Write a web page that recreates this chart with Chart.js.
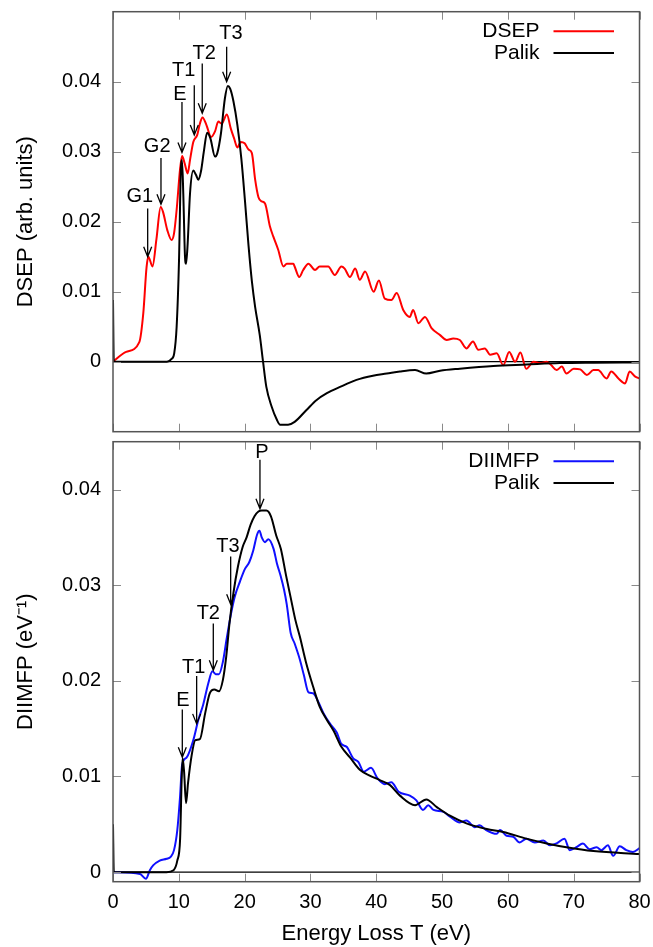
<!DOCTYPE html>
<html>
<head>
<meta charset="utf-8">
<script src="https://cdn.jsdelivr.net/npm/chart.js@4.4.1/dist/chart.umd.min.js"></script>
<style>
  html, body { margin: 0; padding: 0; background: #fff; }
  #wrap { position: relative; width: 653px; height: 947px; }
  #topBox { position: absolute; left: 0; top: 0; width: 653px; height: 437px; }
  #botBox { position: absolute; left: 0; top: 437px; width: 653px; height: 510px; }
</style>
</head>
<body>
<div id="wrap">
  <div id="topBox"><canvas id="dsepChart"></canvas></div>
  <div id="botBox"><canvas id="diimfpChart"></canvas></div>
</div>
<script>
// === data ===

const xTicks = [0, 10, 20, 30, 40, 50, 60, 70, 80];
const yTicks = [0, 0.01, 0.02, 0.03, 0.04];

// top panel: DSEP (red)
const dsepT = [0, 2.0, 4.0, 4.6, 5.1, 5.37, 6.0, 6.6, 7.24, 7.6, 8.25, 8.9, 9.27, 9.67, 10.18, 10.5, 10.9, 11.34, 11.7,
  12.2, 12.8, 13.2, 13.6, 14.2, 14.9, 15.5, 16.0, 16.5, 17.3, 17.9, 18.4, 18.9, 19.4, 20.0, 20.6, 21.1, 21.6,
  22.1, 22.6, 23.1, 23.85, 24.35, 25.1, 25.9, 26.4, 27.4, 27.6, 28.3, 28.9, 29.7, 30.7, 31.4, 32.7, 33.7, 34.7,
  35.2, 36.0, 36.8, 37.5, 38.3, 39.6, 40.4, 41.3, 42.3, 43.1, 44.1, 45.1, 45.6, 46.4, 47.4, 48.4, 49.7, 50.7,
  51.7, 52.7, 53.7, 54.7, 55.5, 56.5, 57.3, 58.3, 59.3, 60.2, 61.1, 61.9, 62.8, 63.9, 64.9, 65.9, 66.6, 67.4,
  68.2, 68.9, 70, 71, 72, 73, 73.7, 75, 75.7, 76.8, 77.8, 78.5, 79.3, 80];
const dsepY = [0, 0.0014, 0.0028, 0.0069, 0.0135, 0.015, 0.0136, 0.0175, 0.0221, 0.0214, 0.0188, 0.0174, 0.0183, 0.0217,
  0.0274, 0.0294, 0.0283, 0.0269, 0.0288, 0.0314, 0.0324, 0.034, 0.0349, 0.0338, 0.0321, 0.0329, 0.0343, 0.034,
  0.0353, 0.0333, 0.0319, 0.0306, 0.0314, 0.0312, 0.0303, 0.0298, 0.026, 0.0235, 0.0229, 0.0226, 0.0193, 0.0179,
  0.016, 0.0136, 0.014, 0.014, 0.0136, 0.0121, 0.0131, 0.014, 0.0131, 0.0136, 0.0136, 0.0124, 0.0136, 0.0133,
  0.0121, 0.0133, 0.0117, 0.0129, 0.0100, 0.0116, 0.009, 0.0088, 0.0098, 0.0074, 0.0064, 0.0074, 0.0055, 0.0064,
  0.0048, 0.0038, 0.0031, 0.0033, 0.0031, 0.0019, 0.0029, 0.0017, 0.0019, 0.001, 0.0012, -0.0005, 0.0014, 0,
  0.0013, -0.001, 0, -0.0002, 0, -0.0005, -0.0012, -0.0007, -0.0017, -0.001, -0.0011, -0.0019, -0.0012, -0.0012,
  -0.0024, -0.0014, -0.0024, -0.0031, -0.0014, -0.0021, -0.0024];

// top panel: Palik (black)
const palikTopT = [0, 0.12, 8.2, 8.9, 9.3, 9.67, 10.03, 10.33, 10.48, 10.68, 10.94, 11.1, 11.34, 11.7, 12.2, 12.6,
  12.96, 13.37, 13.8, 14.3, 14.8, 15.5, 15.85, 16.4, 17.0, 17.45, 17.8, 18.3, 18.9, 19.5, 20.05, 20.6, 21.1, 21.6,
  22.3, 22.8, 23.3, 24.1, 24.9, 25.4, 26.6, 27.6, 29.4, 30.9, 32.5, 34.5, 37.0, 39.5, 41.6, 43.6, 45.9, 47.6, 49.7,
  52.7, 57.8, 62.8, 67.9, 73, 80];
const palikTopY = [0.0088, 0, 0, 0.0004, 0.0012, 0.005, 0.0145, 0.0279, 0.0288, 0.024, 0.015, 0.014, 0.0168, 0.024,
  0.0273, 0.0267, 0.026, 0.0272, 0.03, 0.0327, 0.0319, 0.0293, 0.0298, 0.0326, 0.0376, 0.0394, 0.039, 0.0372,
  0.0338, 0.029, 0.023, 0.0165, 0.0115, 0.0078, 0.0038, 0, -0.0036, -0.0064, -0.0083, -0.009, -0.009, -0.0086,
  -0.0069, -0.0055, -0.0045, -0.0036, -0.0026, -0.002, -0.0017, -0.0014, -0.0012, -0.0017, -0.0013, -0.001,
  -0.0006, -0.0004, -0.0002, -0.00014, -0.0001];

// bottom panel: DIIMFP (blue)
const diimfpT = [0, 4.1, 5.0, 5.6, 6.1, 7.1, 8.15, 8.76, 9.27, 9.77, 10.18, 10.5, 11.2, 12.2, 12.96, 13.7, 14.5,
  15.1, 15.6, 16.1, 16.7, 17.27, 17.9, 18.5, 19.3, 20.05, 20.7, 21.3, 21.9, 22.25, 22.6, 23.1, 23.6, 24.4, 24.9,
  25.5, 26.0, 26.4, 27.0, 27.6, 28.4, 29.0, 29.7, 30.4, 31.2, 32.0, 33.0, 34.0, 34.7, 35.5, 36.5, 37.3, 38.1,
  39.2, 40.2, 41.3, 42.3, 43.4, 45.1, 46.1, 47.1, 47.9, 48.7, 50.2, 51.2, 52.7, 53.7, 55.0, 55.7, 56.7, 58.3,
  58.8, 59.8, 60.8, 61.8, 62.8, 64.1, 65.4, 66.4, 67.4, 68.6, 69.4, 70.4, 71.4, 72.4, 73.5, 74.2, 75.2, 76.0,
  77.0, 78.0, 79.0, 80];
const diimfpY = [0, -0.0002, -0.0007, 0.0002, 0.0007, 0.0012, 0.0014, 0.0016, 0.0023, 0.0044, 0.0078, 0.0112,
  0.012, 0.0138, 0.0159, 0.0175, 0.0198, 0.021, 0.0207, 0.0207, 0.022, 0.0244, 0.0269, 0.0288, 0.0304, 0.0317,
  0.0324, 0.0336, 0.0353, 0.0357, 0.035, 0.0345, 0.0348, 0.0338, 0.0323, 0.0309, 0.0295, 0.028, 0.025, 0.0239,
  0.0222, 0.0206, 0.0188, 0.0187, 0.0178, 0.0166, 0.0155, 0.0146, 0.0134, 0.0131, 0.0119, 0.0115, 0.0105,
  0.0109, 0.0098, 0.0092, 0.0094, 0.0084, 0.008, 0.0075, 0.0065, 0.007, 0.0065, 0.0063, 0.0058, 0.0052, 0.0054,
  0.0047, 0.0049, 0.0044, 0.004, 0.0044, 0.0038, 0.0037, 0.0031, 0.0035, 0.0031, 0.0033, 0.0028, 0.003, 0.0035,
  0.0023, 0.0026, 0.003, 0.0024, 0.0026, 0.0023, 0.0028, 0.0017, 0.0027, 0.0023, 0.0021, 0.0025];

// bottom panel: Palik (black)
const palikBotT = [0, 0.12, 8.15, 9.2, 9.77, 10.2, 10.43, 10.58, 10.8, 11.1, 11.4, 11.95, 12.5, 13.2, 14.0, 14.7,
  15.4, 16.1, 16.7, 17.2, 17.7, 18.3, 19.0, 19.7, 20.3, 20.9, 21.5, 22.1, 22.6, 23.3, 24.0, 24.8, 25.5, 26.3,
  27.0, 27.7, 28.4, 29.3, 30.4, 31.4, 32.5, 33.5, 34.7, 36.0, 37.5, 39.0, 40.6, 42.1, 43.6, 45.9, 47.6, 49.2,
  51.2, 53.7, 56.8, 59.3, 62.8, 65.9, 68.9, 73, 80];
const palikBotY = [0.005, 0, 0, 0.0002, 0.0012, 0.0035, 0.0096, 0.0119, 0.0105, 0.0072, 0.0093, 0.0122, 0.0138,
  0.0139, 0.0166, 0.0187, 0.0191, 0.0189, 0.0201, 0.0225, 0.026, 0.0292, 0.032, 0.034, 0.035, 0.0363, 0.0372,
  0.0377, 0.0378, 0.0378, 0.0372, 0.0352, 0.0338, 0.031, 0.0287, 0.0264, 0.0246, 0.022, 0.0194, 0.0173, 0.0159,
  0.0148, 0.0131, 0.012, 0.0107, 0.0101, 0.0096, 0.0091, 0.008, 0.007, 0.0076, 0.0068, 0.0059, 0.0051, 0.0045,
  0.0042, 0.0035, 0.003, 0.0026, 0.0022, 0.0019];

// arrow annotations (data units)
const topMarkText = ['G1', 'G2', 'E', 'T1', 'T2', 'T3'];
const topMarkX = [5.27, 7.29, 10.48, 12.35, 13.56, 17.27];
const topMarkTip = [0.0150, 0.0225, 0.0299, 0.0324, 0.0355, 0.0400];
const topMarkTail = [0.0219, 0.0291, 0.0371, 0.0395, 0.0426, 0.0450];
const topMarkLabelX = [4.06, 6.71, 10.18, 10.75, 13.87, 17.92];
const topMarkLabelY = [0.0236, 0.0307, 0.0382, 0.0416, 0.0441, 0.0469];

const botMarkText = ['E', 'T1', 'T2', 'T3', 'P'];
const botMarkX = [10.53, 12.71, 15.24, 17.88, 22.33];
const botMarkTip = [0.0120, 0.0155, 0.0211, 0.0280, 0.0380];
const botMarkTail = [0.0170, 0.0205, 0.0260, 0.0330, 0.0431];
const botMarkLabelX = [10.63, 12.26, 14.48, 17.45, 22.63];
const botMarkLabelY = [0.0179, 0.0214, 0.0270, 0.0340, 0.0439];

// === helpers ===

const FONT = "'Liberation Sans', Arial, Helvetica, sans-serif";
Chart.defaults.font.family = FONT;
Chart.defaults.color = '#000';

function pts(t, y) {
  return t.map((v, i) => ({ x: v, y: y[i] }));
}

function markList(text, x, tip, tail, lx, ly) {
  return text.map((s, i) => ({ text: s, x: x[i], tip: tip[i], tail: tail[i], lx: lx[i], ly: ly[i] }));
}

// frame, mirrored inward ticks, zero line, key and arrows (gnuplot look)
function gnuplotDecor(marks) {
  return {
    id: 'gnuplotDecor',
    beforeDatasetsDraw(chart) {
      const { ctx, chartArea: a, scales: { y } } = chart;
      const y0 = y.getPixelForValue(0);
      ctx.save();
      ctx.strokeStyle = '#000';
      ctx.lineWidth = 1.2;
      ctx.beginPath();
      ctx.moveTo(a.left, y0);
      ctx.lineTo(a.right, y0);
      ctx.stroke();
      ctx.restore();
    },
    afterDatasetsDraw(chart) {
      const { ctx, chartArea: a, scales: { x, y } } = chart;
      ctx.save();

      // ticks
      ctx.strokeStyle = '#8a8a8a';
      ctx.lineWidth = 1;
      ctx.beginPath();
      xTicks.forEach(v => {
        const px = Math.round(x.getPixelForValue(v)) + 0.5;
        ctx.moveTo(px, a.top); ctx.lineTo(px, a.top + 8);
        ctx.moveTo(px, a.bottom); ctx.lineTo(px, a.bottom - 8);
      });
      yTicks.forEach(v => {
        const py = Math.round(y.getPixelForValue(v)) + 0.5;
        ctx.moveTo(a.left, py); ctx.lineTo(a.left + 8, py);
        ctx.moveTo(a.right, py); ctx.lineTo(a.right - 8, py);
      });
      ctx.stroke();

      // border
      ctx.strokeStyle = '#555';
      ctx.lineWidth = 1.5;
      ctx.strokeRect(a.left, a.top, a.right - a.left, a.bottom - a.top);

      // key: text right aligned, line sample on the right
      ctx.font = '21px ' + FONT;
      ctx.textAlign = 'right';
      ctx.textBaseline = 'middle';
      chart.data.datasets.forEach((ds, i) => {
        const ry = a.top + 19.5 + i * 21.7;
        ctx.fillStyle = '#000';
        ctx.fillText(ds.label, a.right - 100, ry);
        ctx.strokeStyle = ds.borderColor;
        ctx.lineWidth = 2;
        ctx.beginPath();
        ctx.moveTo(a.right - 86, ry);
        ctx.lineTo(a.right - 25.5, ry);
        ctx.stroke();
      });

      // arrows
      ctx.strokeStyle = '#000';
      ctx.fillStyle = '#000';
      ctx.lineWidth = 1.3;
      ctx.font = '20px ' + FONT;
      ctx.textAlign = 'center';
      marks.forEach(m => {
        const px = x.getPixelForValue(m.x);
        const pTip = y.getPixelForValue(m.tip);
        const pTail = y.getPixelForValue(m.tail);
        ctx.beginPath();
        ctx.moveTo(px, pTail);
        ctx.lineTo(px, pTip);
        ctx.moveTo(px - 4, pTip - 10);
        ctx.lineTo(px, pTip);
        ctx.lineTo(px + 4, pTip - 10);
        ctx.stroke();
        ctx.fillText(m.text, x.getPixelForValue(m.lx), y.getPixelForValue(m.ly));
      });

      ctx.restore();
    }
  };
}

function lineSet(label, data, color, order) {
  return {
    label: label,
    data: data,
    borderColor: color,
    borderWidth: 2,
    pointRadius: 0,
    fill: false,
    cubicInterpolationMode: 'monotone',
    order: order
  };
}

function yAxis(min, max, title) {
  return {
    type: 'linear',
    min: min,
    max: max,
    afterBuildTicks: s => { s.ticks = yTicks.map(v => ({ value: v })); },
    afterFit: s => { s.width = 113; s.paddingTop = 0; s.paddingBottom = 0; },
    grid: { display: false, drawTicks: false },
    border: { display: false },
    ticks: {
      padding: 12,
      font: { size: 20 },
      callback: v => (v === 0 ? '0' : v.toFixed(2))
    },
    title: {
      display: true,
      text: title,
      font: { size: 22, lineHeight: 1 },
      padding: { top: 15, bottom: 0 }
    }
  };
}

function xAxis(show) {
  return {
    type: 'linear',
    min: 0,
    max: 80,
    display: show,
    afterBuildTicks: s => { s.ticks = xTicks.map(v => ({ value: v })); },
    afterFit: s => { s.height = show ? 65.3 : 0; s.paddingLeft = 0; s.paddingRight = 0; },
    grid: { display: false, drawTicks: false },
    border: { display: false },
    ticks: { padding: 9, font: { size: 20 }, maxRotation: 0 },
    title: {
      display: show,
      text: 'Energy Loss T (eV)',
      font: { size: 22, lineHeight: 1 },
      padding: { top: 0, bottom: 2 }
    }
  };
}

// === top panel ===

new Chart(document.getElementById('dsepChart'), {
  type: 'line',
  data: {
    datasets: [
      lineSet('DSEP', pts(dsepT, dsepY), '#ff0000', 1),
      lineSet('Palik', pts(palikTopT, palikTopY), '#000000', 0)
    ]
  },
  options: {
    responsive: true,
    maintainAspectRatio: false,
    animation: false,
    layout: { padding: { left: 0, top: 11.7, right: 13.5, bottom: 5.3 } },
    plugins: { legend: { display: false }, tooltip: { enabled: false } },
    scales: {
      x: xAxis(false),
      y: yAxis(-0.01, 0.05, 'DSEP (arb. units)')
    }
  },
  plugins: [gnuplotDecor(markList(topMarkText, topMarkX, topMarkTip, topMarkTail, topMarkLabelX, topMarkLabelY))]
});

// === bottom panel ===

new Chart(document.getElementById('diimfpChart'), {
  type: 'line',
  data: {
    datasets: [
      lineSet('DIIMFP', pts(diimfpT, diimfpY), '#1010ff', 1),
      lineSet('Palik', pts(palikBotT, palikBotY), '#000000', 0)
    ]
  },
  options: {
    responsive: true,
    maintainAspectRatio: false,
    animation: false,
    layout: { padding: { left: 0, top: 4.7, right: 13.5, bottom: 0 } },
    plugins: { legend: { display: false }, tooltip: { enabled: false } },
    scales: {
      x: xAxis(true),
      y: yAxis(-0.001, 0.045, 'DIIMFP (eV\u207B\u00B9)')
    }
  },
  plugins: [gnuplotDecor(markList(botMarkText, botMarkX, botMarkTip, botMarkTail, botMarkLabelX, botMarkLabelY))]
});
</script>
</body>
</html>
